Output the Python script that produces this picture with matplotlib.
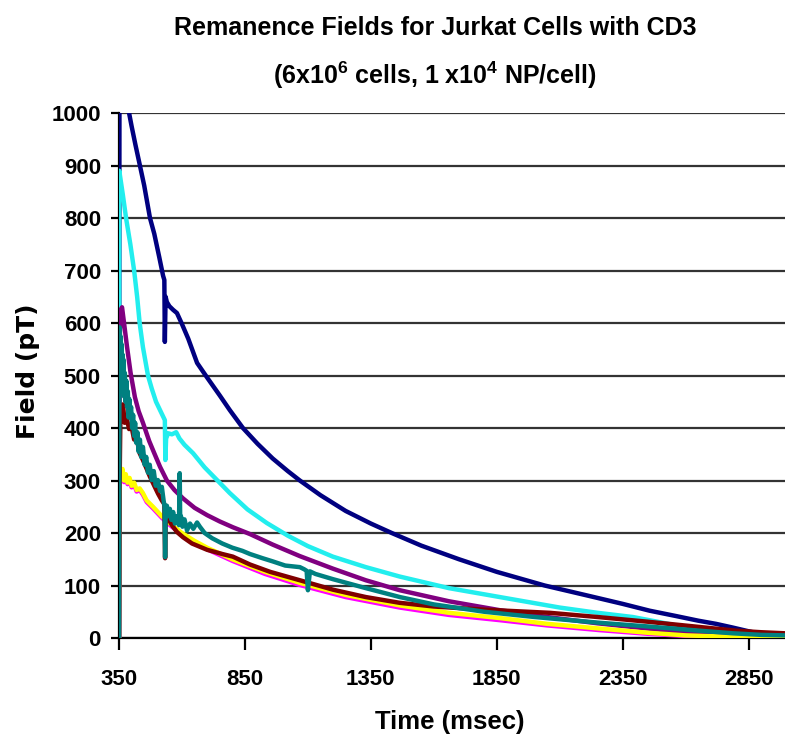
import matplotlib
matplotlib.use('Agg')
import matplotlib.pyplot as plt

plt.rcParams['font.family'] = ['Liberation Sans', 'DejaVu Sans']
plt.rcParams['mathtext.fontset'] = 'custom'
plt.rcParams['mathtext.rm'] = 'Liberation Sans:bold'
plt.rcParams['mathtext.it'] = 'Liberation Sans:bold'
plt.rcParams['mathtext.bf'] = 'Liberation Sans:bold'

# data (time in msec, field in pT)
navy_t = [350, 352, 390, 400, 415, 433, 450, 473, 490, 510, 525, 530, 532, 535, 540, 550, 565, 580,
          600, 625, 660, 700, 750, 790, 842, 900, 960, 1020, 1068, 1150, 1250, 1350, 1433, 1550,
          1700, 1850, 2040, 2200, 2350, 2457, 2560, 2650, 2720, 2786, 2866, 2930, 2993]
navy_v = [0, 1150, 1000, 975, 940, 900, 862, 800, 770, 725, 690, 682, 564, 650, 640, 632, 625, 619,
          598, 570, 524, 496, 462, 434, 400, 370, 342, 318, 300, 272, 242, 218, 200, 176,
          150, 126, 100, 82, 65, 52, 42, 33, 27, 20, 11, 7, 4]

cyan_t = [350, 351, 365, 378, 395, 410, 422, 432, 445, 465, 480, 497, 515, 532, 534, 537, 545, 560,
          577, 590, 610, 644, 690, 739, 790, 860, 937, 1020, 1100, 1199, 1330, 1465, 1660, 1862,
          2100, 2250, 2390, 2520, 2655, 2750, 2850, 2993]
cyan_v = [0, 890, 845, 800, 750, 700, 650, 600, 554, 500, 475, 450, 432, 415, 339, 380, 390, 388,
          392, 380, 368, 352, 325, 301, 276, 245, 219, 195, 175, 155, 135, 117, 95, 78,
          58, 48, 40, 28, 15, 9, 4, 2]

purple_t = [350, 352, 357, 362, 370, 382, 396, 413, 428, 445, 470, 490, 513, 540, 570, 604, 650,
            700, 750, 802, 870, 960, 1068, 1200, 1330, 1465, 1660, 1862, 2050, 2250, 2450, 2600,
            2750, 2900, 2993]
purple_v = [0, 560, 625, 630, 600, 554, 505, 459, 432, 410, 375, 352, 326, 300, 282, 266, 248,
            234, 222, 211, 198, 178, 156, 132, 110, 91, 70, 53, 40, 28, 18, 11,
            5, 2, 1]

yellow_t = [350, 351, 354, 358, 364, 370, 377, 384, 392, 400, 410, 420, 432, 445, 460, 485, 520,
            560, 600, 650, 700, 800, 930, 1068, 1250, 1465, 1660, 1862, 2050, 2259, 2450, 2600,
            2800, 2993]
yellow_v = [0, 260, 318, 305, 322, 300, 312, 296, 305, 290, 296, 282, 285, 276, 262, 250, 232,
            215, 200, 185, 172, 150, 126, 105, 82, 62, 48, 38, 27, 18, 10, 5,
            2, 1]

magenta_t = yellow_t
magenta_v = [0, 256, 314, 302, 318, 297, 308, 293, 301, 287, 292, 279, 282, 273, 259, 247, 229,
             212, 197, 182, 169, 147, 122, 101, 78, 58, 44, 34, 24, 15, 8, 4,
             1, 0]

maroon_t = [350, 352, 356, 360, 366, 372, 380, 390, 400, 410, 420, 432, 445, 460, 473, 490, 505,
            520, 530, 533, 536, 545, 560, 580, 604, 640, 700, 760, 802, 870, 950, 1068, 1200,
            1330, 1465, 1600, 1800, 2060, 2250, 2450, 2655, 2800, 2900, 2993]
maroon_v = [0, 280, 440, 425, 445, 410, 420, 398, 402, 378, 380, 352, 339, 322, 307, 290, 275,
            262, 255, 152, 238, 228, 215, 202, 192, 180, 168, 160, 155, 140, 126, 110, 92,
            78, 67, 60, 54, 48, 40, 31, 21, 14, 11, 9]

teal_t = [350, 352, 354, 356, 358, 360, 362, 364, 366, 368, 370, 373, 376, 379, 382, 385, 388, 391,
          394, 398, 402, 406, 410, 414, 418, 423, 428, 433, 438, 445, 452, 458, 465, 472, 480, 488,
          496, 504, 513, 520, 527, 531, 533, 535, 540, 546, 552, 558, 565, 572, 580, 588, 591, 593,
          596, 602, 610, 620, 632, 645, 660, 671, 690, 720, 760, 800, 840, 870, 920, 960, 1010,
          1068, 1085, 1095, 1100, 1108, 1130, 1200, 1330, 1465, 1600, 1800, 2000, 2259, 2450,
          2600, 2786, 2900, 2993]
teal_v = [0, 592, 520, 575, 490, 560, 470, 540, 480, 530, 460, 505, 450, 490, 440, 470, 420, 455,
          428, 440, 400, 425, 385, 410, 372, 392, 355, 378, 345, 364, 330, 345, 315, 330, 301, 318,
          290, 301, 280, 288, 262, 250, 154, 245, 252, 232, 246, 225, 240, 218, 232, 215, 314, 222,
          232, 212, 226, 205, 218, 208, 220, 212, 200, 190, 180, 172, 166, 160, 152, 146, 138,
          135, 131, 128, 91, 127, 122, 112, 95, 78, 64, 50, 40, 29, 22,
          16, 9, 6, 5]

series = [
    (navy_t, navy_v, '#000080'),
    (cyan_t, cyan_v, '#22EEEE'),
    (purple_t, purple_v, '#800080'),
    (magenta_t, magenta_v, '#FF00FF'),
    (yellow_t, yellow_v, '#FFFF00'),
    (maroon_t, maroon_v, '#800000'),
    (teal_t, teal_v, '#008080'),
]

xticks = [350, 850, 1350, 1850, 2350, 2850]
yticks = list(range(0, 1001, 100))

fig = plt.figure(figsize=(7.85, 7.43), dpi=100)
fig.patch.set_facecolor('white')
ax = fig.add_axes([0.1516, 0.1413, 0.848, 0.7066])

for t, v, c in series:
    ax.plot(t, v, color=c, lw=3.2, zorder=3)

ax.set_xlim(350, 2993)
ax.set_ylim(0, 1000)
ax.set_xticks(xticks)
ax.set_yticks(yticks)
ax.yaxis.grid(True, color='#333333', lw=1.6, zorder=1)
ax.set_axisbelow(True)

for s in ['top', 'right']:
    ax.spines[s].set_visible(False)
for s in ['left', 'bottom']:
    ax.spines[s].set_linewidth(1.6)
    ax.spines[s].set_color('black')

ax.tick_params(axis='both', direction='out', width=1.6, colors='black')
ax.tick_params(axis='y', length=6, pad=7)
ax.tick_params(axis='x', length=8.5, pad=14)
for lab in ax.get_xticklabels() + ax.get_yticklabels():
    lab.set_fontsize(16)
    lab.set_fontweight('bold')

fig.text(0.573, 0.028, 'Time (msec)', ha='center', va='center', fontsize=18.5, fontweight='bold')
fig.text(0.036, 0.5, 'Field (pT)', rotation=90, ha='center', va='center',
         fontsize=18, fontweight='bold', family='DejaVu Sans')

fig.text(0.554, 0.962, 'Remanence Fields for Jurkat Cells with CD3', ha='center', va='center',
         fontsize=18, fontweight='bold')
fig.text(0.554, 0.899, r'(6x10$^6$ cells, 1 x10$^4$ NP/cell)', ha='center', va='center',
         fontsize=18, fontweight='bold')

plt.savefig('out.png', dpi=100, facecolor='white')
print("saved")
